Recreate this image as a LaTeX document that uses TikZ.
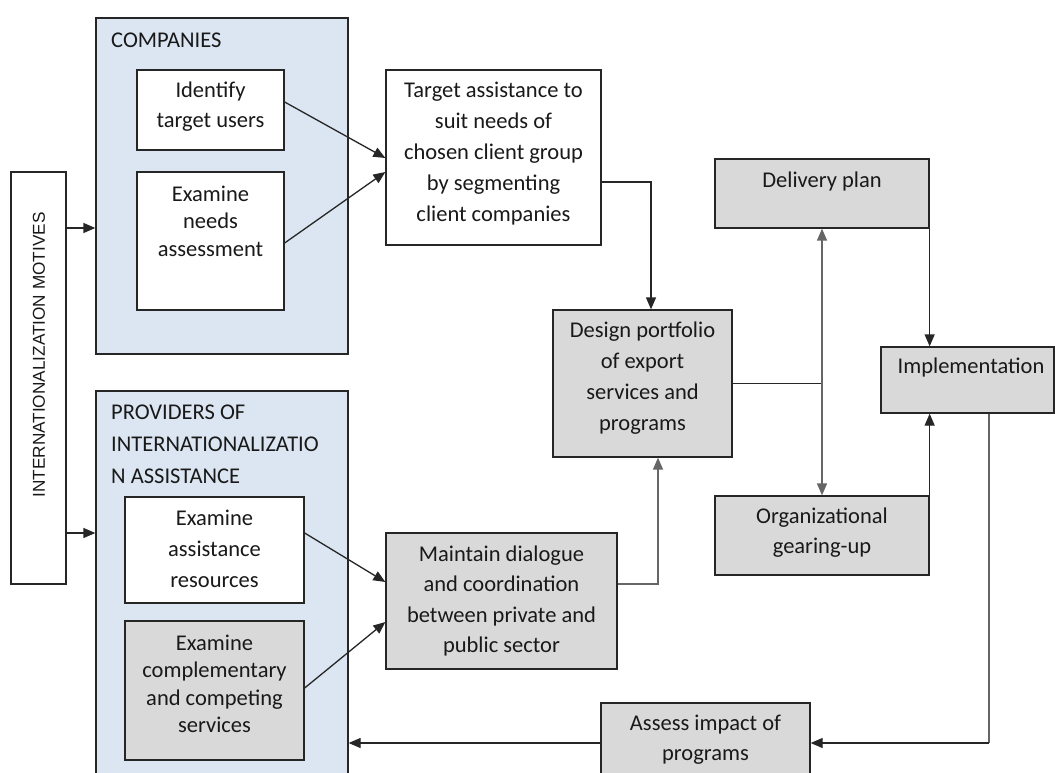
\documentclass[tikz,border=0pt]{standalone}
\usepackage{fontspec}
\setmainfont{Carlito}
\newfontfamily\arialf{Liberation Sans}
\usetikzlibrary{arrows.meta,calc}
\definecolor{bluefill}{HTML}{DCE6F2}
\definecolor{greyfill}{HTML}{D9D9D9}
\definecolor{linec}{HTML}{262626}
\definecolor{glinec}{HTML}{666666}
\begin{document}
\begin{tikzpicture}[x=1pt,y=-1pt,
  box/.style={draw=linec, line width=1.3pt, rectangle, inner sep=0pt},
  wbox/.style={box, fill=white},
  gbox/.style={box, fill=greyfill},
  bbox/.style={box, fill=bluefill},
  txt/.style={align=center, inner sep=0pt, text=black!90, font=\fontsize{22.5}{30}\selectfont},
  ttl/.style={align=left, anchor=west, inner sep=0pt, text=black!90, font=\fontsize{22.5}{32}\selectfont},
  tip/.style={-{Triangle[length=12pt,width=10pt]}},
  conn/.style={draw=linec, line width=1.3pt, tip},
  gconn/.style={draw=glinec, line width=1.5pt, tip},
  plain/.style={draw=linec, line width=1.3pt},
  gplain/.style={draw=glinec, line width=1.5pt}
]
\useasboundingbox (0,0) rectangle (1055,773);
\clip (0,0) rectangle (1055,773);
\fill[white] (0,0) rectangle (1055,773);

% containers
\node[bbox, minimum width=252pt, minimum height=336pt] (cmp) at (222,186) {};
\node[bbox, minimum width=252pt, minimum height=409pt] (prv) at (222,595.5) {};
\node[ttl] (cmpt) at (111,40) {COMPANIES};
\node[ttl] (prvt) at (111,444) {PROVIDERS OF\\INTERNATIONALIZATIO\\N ASSISTANCE};

% motives
\node[wbox, minimum width=55pt, minimum height=412pt] (mot) at (38.5,378) {};
\node[inner sep=0pt, rotate=90, text=black!90, font=\arialf\fontsize{17.2}{20}\selectfont] (mott) at (39,355) {INTERNATIONALIZATION MOTIVES};

% boxes
\node[wbox, minimum width=147pt, minimum height=80pt] (idb) at (210.5,110) {};
\node[txt] (idt) at (210.5,107) {Identify\\target users};
\node[wbox, minimum width=147pt, minimum height=138pt] (ndb) at (210.5,241) {};
\node[txt, font=\fontsize{22.5}{27.5}\selectfont] (ndt) at (210.5,221) {Examine\\needs\\assessment};

\node[wbox, minimum width=215pt, minimum height=175pt] (tgt) at (493.5,157.5) {};
\node[txt, font=\fontsize{22.5}{31}\selectfont] (tgtt) at (493.5,154) {Target assistance to\\suit needs of\\chosen client group\\by segmenting\\client companies};

\node[gbox, minimum width=179pt, minimum height=147pt] (dsg) at (642.5,383.5) {};
\node[txt, font=\fontsize{22.5}{31}\selectfont] (dsgt) at (642.5,378.5) {Design portfolio\\of export\\services and\\programs};

\node[gbox, minimum width=214pt, minimum height=69pt] (dlv) at (822,193.5) {};
\node[txt] (dlvt) at (822,182) {Delivery plan};

\node[gbox, minimum width=173pt, minimum height=66pt] (imp) at (967.5,380) {};
\node[txt] (impt) at (971,367) {Implementation};

\node[gbox, minimum width=214pt, minimum height=79pt] (org) at (822,535.5) {};
\node[txt] (orgt) at (822,533) {Organizational\\gearing-up};

\node[wbox, minimum width=179pt, minimum height=106pt] (asb) at (214.5,550) {};
\node[txt, font=\fontsize{22.5}{31}\selectfont] (asbt) at (214.5,549) {Examine\\assistance\\resources};

\node[gbox, minimum width=179pt, minimum height=139pt] (cpb) at (214.5,690.5) {};
\node[txt, font=\fontsize{22.5}{27.5}\selectfont] (cpbt) at (214.5,684) {Examine\\complementary\\and competing\\services};

\node[gbox, minimum width=231pt, minimum height=136pt] (mnt) at (501.5,601) {};
\node[txt, font=\fontsize{22.5}{30.5}\selectfont] (mntt) at (501.5,601) {Maintain dialogue\\and coordination\\between private and\\public sector};

\node[gbox, minimum width=209pt, minimum height=80pt] (asm) at (705.5,743) {};
\node[txt] (asmt) at (705.5,740) {Assess impact of\\programs};

% helper coordinates
\coordinate (m1) at ($(mot.east)+(0,-150)$);
\coordinate (m2) at ($(mot.east)+(0,155)$);
\coordinate (ib) at ($(imp.south)+(21.5,0)$);
\coordinate (ibc) at (ib |- asm.east);
\coordinate (junc) at (dsg.east -| dlv.south);

% connectors
\draw[conn] (m1) -- (m1 -| cmp.west);
\draw[conn] (m2) -- (m2 -| prv.west);

\draw[conn] ($(idb.east)+(0,-8)$) -- ($(tgt.west)+(0,0.5)$);
\draw[conn] ($(ndb.east)+(0,2)$) -- ($(tgt.west)+(0,14.5)$);

\draw[conn] ($(asb.east)+(0,-17)$) -- ($(mnt.west)+(0,-19)$);
\draw[conn] ($(cpb.east)+(0,-2.5)$) -- ($(mnt.west)+(0,21)$);

\draw[conn] ($(tgt.east)+(0,24.5)$) -| ($(dsg.north)+(8.5,0)$);
\draw[gconn] ($(mnt.east)+(0,-17)$) -| ($(dsg.south)+(15.5,0)$);

\draw[plain] (dsg.east) -- (junc);
\draw[gconn, {Triangle[length=12pt,width=10pt]}-{Triangle[length=12pt,width=10pt]}] (dlv.south) -- (org.north);

\draw[conn] (dlv.south east) -- (dlv.south east |- imp.north);
\draw[conn] (org.north east) -- (org.north east |- imp.south);

\draw[gplain] (ib) -- (ibc);
\draw[conn] (ibc) -- (asm.east);
\draw[conn] (asm.west) -- (asm.west -| prv.east);
\end{tikzpicture}
\end{document}
